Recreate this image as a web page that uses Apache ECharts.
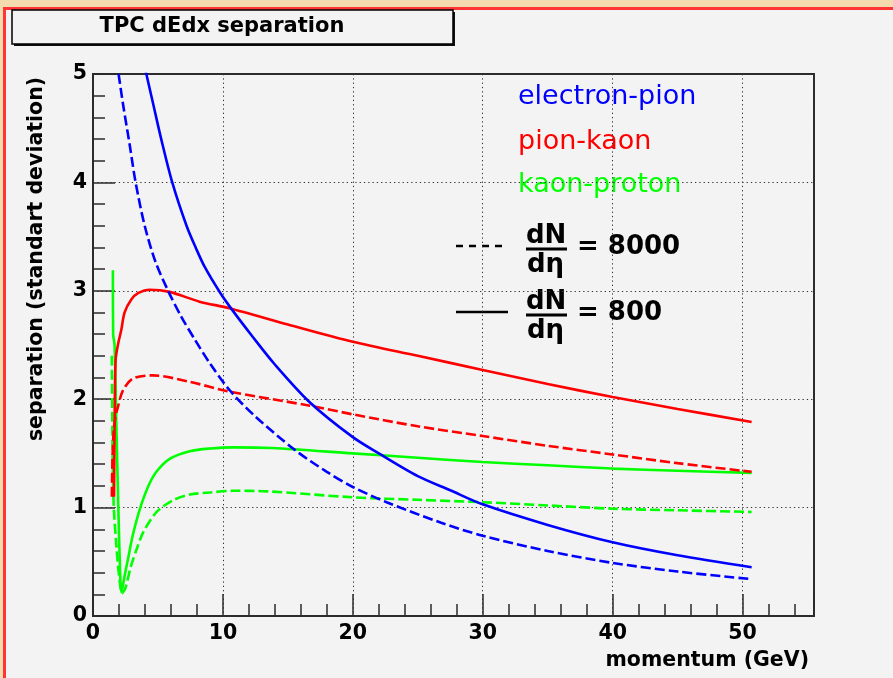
<!DOCTYPE html>
<html>
<head>
<meta charset="utf-8">
<script src="https://cdn.jsdelivr.net/npm/echarts@6/dist/echarts.min.js"></script>
<style>
  html, body { margin: 0; padding: 0; background: #f3f3f3; }
  #chart { width: 893px; height: 678px; }
</style>
</head>
<body>
<div id="chart"></div>
<script>
// Axis ranges and tick labels
const xMajorTicks = [0, 10, 20, 30, 40, 50];
const yMajorTicks = [0, 1, 2, 3, 4, 5];

// electron-pion separation, dN/deta = 800 (solid)
const epi800P = [4.05, 4.62, 5.27, 6.1, 7.2, 7.9, 8.6, 9.8, 10.8, 12.2, 14.0, 16.7, 20.0, 22.0, 25.0, 27.5, 30.0, 35.0, 40.0, 45.0, 50.7];
const epi800S = [5.03, 4.73, 4.39, 4.0, 3.6, 3.4, 3.22, 2.98, 2.81, 2.59, 2.32, 1.97, 1.65, 1.5, 1.29, 1.16, 1.03, 0.84, 0.68, 0.56, 0.45];

// electron-pion separation, dN/deta = 8000 (dashed)
const epi8000P = [1.97, 2.3, 2.82, 3.28, 3.98, 4.8, 5.78, 6.8, 7.84, 9.0, 10.54, 12.5, 15.56, 18.0, 20.0, 22.6, 26.8, 30.0, 35.0, 40.0, 45.0, 50.7];
const epi8000S = [5.0, 4.73, 4.35, 4.0, 3.6, 3.27, 3.0, 2.76, 2.55, 2.33, 2.08, 1.84, 1.53, 1.33, 1.19, 1.05, 0.86, 0.74, 0.6, 0.49, 0.41, 0.34];

// pion-kaon separation, dN/deta = 800 (solid)
const pik800P = [1.62, 1.66, 1.74, 1.95, 2.18, 2.43, 2.95, 3.5, 4.36, 5.9, 8.2, 10.5, 15.0, 20.0, 25.0, 30.0, 35.0, 40.0, 45.0, 50.7];
const pik800S = [1.1, 1.7, 2.36, 2.52, 2.64, 2.8, 2.92, 2.98, 3.01, 2.99, 2.9, 2.84, 2.69, 2.53, 2.4, 2.27, 2.14, 2.02, 1.91, 1.79];

// pion-kaon separation, dN/deta = 8000 (dashed)
const pik8000P = [1.45, 1.5, 1.6, 1.75, 1.92, 2.3, 3.07, 4.6, 7.45, 10.5, 16.7, 20.0, 25.0, 30.0, 35.0, 40.0, 45.0, 50.7];
const pik8000S = [1.1, 1.45, 1.72, 1.85, 1.93, 2.08, 2.19, 2.22, 2.16, 2.07, 1.94, 1.86, 1.75, 1.66, 1.57, 1.49, 1.41, 1.33];

// kaon-proton separation, dN/deta = 800 (solid)
const kp800P = [1.53, 1.55, 1.66, 1.8, 1.95, 2.1, 2.18, 2.45, 2.75, 3.07, 3.59, 4.23, 4.88, 5.9, 7.45, 9.0, 10.8, 13.8, 20.0, 25.0, 30.0, 35.0, 40.0, 45.0, 50.7];
const kp800S = [3.19, 2.6, 2.5, 1.75, 1.0, 0.35, 0.22, 0.38, 0.56, 0.75, 0.98, 1.19, 1.33, 1.45, 1.52, 1.545, 1.556, 1.55, 1.5, 1.46, 1.42, 1.39, 1.36, 1.34, 1.32];

// kaon-proton separation, dN/deta = 8000 (dashed)
const kp8000P = [1.45, 1.48, 1.52, 1.6, 1.8, 2.0, 2.25, 2.5, 2.9, 3.4, 3.9, 4.9, 6.2, 7.45, 9.0, 10.8, 13.4, 20.0, 25.0, 30.0, 35.0, 40.0, 45.0, 50.7];
const kp8000S = [2.4, 1.9, 1.4, 1.0, 0.65, 0.38, 0.21, 0.26, 0.45, 0.63, 0.78, 0.96, 1.07, 1.12, 1.14, 1.155, 1.15, 1.095, 1.072, 1.05, 1.02, 0.99, 0.975, 0.96];

const BLUE = '#0000ff', RED = '#ff0000', GREEN = '#00ff00';
const FONT = '"DejaVu Sans", sans-serif';

function pairs(xs, ys) { return xs.map((x, i) => [x, ys[i]]); }

function curve(name, xs, ys, color, dashed) {
  return {
    name: name,
    type: 'line',
    xAxisIndex: 0,
    yAxisIndex: 0,
    data: pairs(xs, ys),
    showSymbol: false,
    smooth: 0.3,
    clip: true,
    animation: false,
    lineStyle: { color: color, width: 2.6, type: dashed ? [10, 4] : 'solid' }
  };
}

const chart = echarts.init(document.getElementById('chart'), null, { renderer: 'canvas' });

const option = {
  backgroundColor: '#f3f3f3',
  animation: false,
  grid: {
    left: 93, right: 79, top: 74, bottom: 62,
    show: true, backgroundColor: '#f3f3f3',
    borderColor: '#2b2b2b', borderWidth: 2
  },
  xAxis: [
    {
      type: 'value', min: 0, max: 55.5, interval: 10,
      axisLine: { show: true, onZero: false, lineStyle: { color: '#2b2b2b', width: 2 } },
      axisTick: { show: true, inside: true, length: 22, lineStyle: { color: '#2b2b2b', width: 1.5 } },
      axisLabel: {
        show: true, margin: 7, color: '#000',
        fontFamily: FONT, fontWeight: 'bold', fontSize: 20.5,
        formatter: v => (xMajorTicks.indexOf(v) >= 0 ? String(v) : '')
      },
      splitLine: { show: true, lineStyle: { color: '#333', width: 1, type: [1.3, 3] } }
    },
    {
      // minor ticks every 2 GeV
      type: 'value', min: 0, max: 55.5, interval: 2, position: 'bottom',
      axisLine: { show: false },
      axisTick: { show: true, inside: true, length: 12, lineStyle: { color: '#2b2b2b', width: 1.5 } },
      axisLabel: { show: false },
      splitLine: { show: false }
    }
  ],
  yAxis: {
    type: 'value', min: 0, max: 5, interval: 1,
    axisLine: { show: true, onZero: false, lineStyle: { color: '#2b2b2b', width: 2 } },
    axisTick: { show: true, inside: true, length: 22, lineStyle: { color: '#2b2b2b', width: 1.5 } },
    minorTick: { show: true, splitNumber: 5, length: 12, lineStyle: { color: '#2b2b2b', width: 1.5 } },
    axisLabel: {
      show: true, margin: 6, color: '#000',
      fontFamily: FONT, fontWeight: 'bold', fontSize: 20.5,
      formatter: v => (yMajorTicks.indexOf(v) >= 0 ? String(v) : '')
    },
    splitLine: { show: true, lineStyle: { color: '#333', width: 1, type: [1.3, 3] } }
  },
  series: [
    curve('kaon-proton 8000', kp8000P, kp8000S, GREEN, true),
    curve('kaon-proton 800', kp800P, kp800S, GREEN, false),
    curve('pion-kaon 8000', pik8000P, pik8000S, RED, true),
    curve('pion-kaon 800', pik800P, pik800S, RED, false),
    curve('electron-pion 8000', epi8000P, epi8000S, BLUE, true),
    curve('electron-pion 800', epi800P, epi800S, BLUE, false)
  ],
  graphic: [
    // canvas frame: tan margin with a red edge
    { type: 'rect', shape: { x: 0, y: 0, width: 893, height: 7 }, style: { fill: '#f3dbaf' }, silent: true },
    { type: 'rect', shape: { x: 0, y: 0, width: 3, height: 678 }, style: { fill: '#f3dbaf' }, silent: true },
    { type: 'rect', shape: { x: 3, y: 7, width: 890, height: 3 }, style: { fill: '#ff3535' }, silent: true },
    { type: 'rect', shape: { x: 3, y: 7, width: 3, height: 671 }, style: { fill: '#ff3535' }, silent: true },

    // title box with drop shadow
    { type: 'rect', shape: { x: 14, y: 12, width: 441, height: 34 }, style: { fill: '#111' }, silent: true },
    { type: 'rect', shape: { x: 12, y: 10, width: 441, height: 34 }, style: { fill: '#f3f3f3', stroke: '#000', lineWidth: 1.5 }, silent: true },
    { type: 'text', x: 222, y: 27, style: { text: 'TPC dEdx separation', font: 'bold 21px ' + FONT, fill: '#000', textAlign: 'center', textVerticalAlign: 'middle' }, silent: true },

    // axis titles
    { type: 'text', x: 809, y: 661, style: { text: 'momentum (GeV)', font: 'bold 20.5px ' + FONT, fill: '#000', textAlign: 'right', textVerticalAlign: 'middle' }, silent: true },
    { type: 'text', x: 36.5, y: 259, rotation: Math.PI / 2, style: { text: 'separation (standart deviation)', font: 'bold 20.5px ' + FONT, fill: '#000', textAlign: 'center', textVerticalAlign: 'middle' }, silent: true },

    // particle pair labels
    { type: 'text', x: 518, y: 96.5, style: { text: 'electron-pion', font: '27px ' + FONT, fill: BLUE, textAlign: 'left', textVerticalAlign: 'middle' }, silent: true },
    { type: 'text', x: 518, y: 141.5, style: { text: 'pion-kaon', font: '27px ' + FONT, fill: RED, textAlign: 'left', textVerticalAlign: 'middle' }, silent: true },
    { type: 'text', x: 518, y: 184.5, style: { text: 'kaon-proton', font: '27px ' + FONT, fill: GREEN, textAlign: 'left', textVerticalAlign: 'middle' }, silent: true },

    // multiplicity key: dashed = 8000
    { type: 'line', shape: { x1: 456, y1: 246, x2: 508, y2: 246 }, style: { stroke: '#000', lineWidth: 2.5, lineDash: [7, 6] }, silent: true },
    { type: 'text', x: 526, y: 236.5, style: { text: 'dN', font: 'bold 26px ' + FONT, fill: '#000', textAlign: 'left', textVerticalAlign: 'middle' }, silent: true },
    { type: 'line', shape: { x1: 526, y1: 249, x2: 567, y2: 249 }, style: { stroke: '#000', lineWidth: 3 }, silent: true },
    { type: 'text', x: 527, y: 265, style: { text: 'dη', font: 'bold 26px ' + FONT, fill: '#000', textAlign: 'left', textVerticalAlign: 'middle' }, silent: true },
    { type: 'text', x: 577, y: 247.5, style: { text: '= 8000', font: 'bold 26px ' + FONT, fill: '#000', textAlign: 'left', textVerticalAlign: 'middle' }, silent: true },

    // multiplicity key: solid = 800
    { type: 'line', shape: { x1: 456, y1: 312, x2: 508, y2: 312 }, style: { stroke: '#000', lineWidth: 2.5 }, silent: true },
    { type: 'text', x: 526, y: 302.5, style: { text: 'dN', font: 'bold 26px ' + FONT, fill: '#000', textAlign: 'left', textVerticalAlign: 'middle' }, silent: true },
    { type: 'line', shape: { x1: 526, y1: 315, x2: 567, y2: 315 }, style: { stroke: '#000', lineWidth: 3 }, silent: true },
    { type: 'text', x: 527, y: 331, style: { text: 'dη', font: 'bold 26px ' + FONT, fill: '#000', textAlign: 'left', textVerticalAlign: 'middle' }, silent: true },
    { type: 'text', x: 577, y: 313, style: { text: '= 800', font: 'bold 26px ' + FONT, fill: '#000', textAlign: 'left', textVerticalAlign: 'middle' }, silent: true }
  ]
};

chart.setOption(option);
</script>
</body>
</html>
